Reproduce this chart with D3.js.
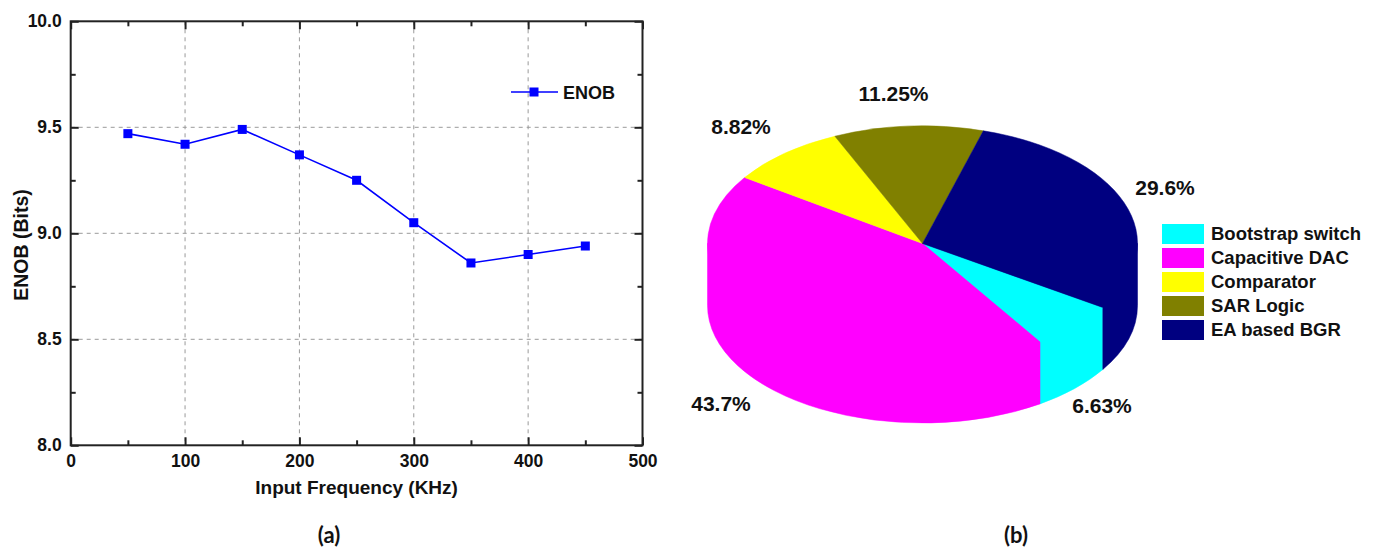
<!DOCTYPE html>
<html>
<head>
<meta charset="utf-8">
<script src="https://cdn.jsdelivr.net/npm/d3@7"></script>
<style>
  html, body { margin: 0; padding: 0; background: #fff; }
  svg { display: block; }
  text { font-family: "Liberation Sans", Arial, sans-serif; }
</style>
</head>
<body>
<svg id="chart" width="1379" height="552"></svg>
<script>
// ---- Data: panel (a) ----
const freqKHz = [50, 100, 150, 200, 250, 300, 350, 400, 450];
const enobBits = [9.47, 9.42, 9.49, 9.37, 9.25, 9.05, 8.86, 8.90, 8.94];
const xMajorTicks = [0, 100, 200, 300, 400, 500];
const xMinorTicks = [50, 150, 250, 350, 450];
const yMajorTicks = [8.0, 8.5, 9.0, 9.5, 10.0];
const yMinorTicks = [8.25, 8.75, 9.25, 9.75];
const seriesName = "ENOB";

// ---- Data: panel (b) ----
const blocks = ["Bootstrap switch", "Capacitive DAC", "Comparator", "SAR Logic", "EA based BGR"];
const shares = [6.63, 43.7, 8.82, 11.25, 29.6];
const shareLabels = ["6.63%", "43.7%", "8.82%", "11.25%", "29.6%"];
const blockColors = ["#00FFFF", "#FF00FF", "#FFFF00", "#808000", "#000080"];

const svg = d3.select("#chart");
svg.append("rect").attr("width", 1379).attr("height", 552).attr("fill", "#fff");

// ================= Panel (a) =================
const L = 70.7, R = 642.5, T = 21.3, B = 445.3;
const x = d3.scaleLinear().domain([0, 500]).range([L, R]);
const y = d3.scaleLinear().domain([8, 10]).range([B, T]);
const ga = svg.append("g");

// grid
ga.append("g").selectAll("line").data([100, 200, 300, 400]).join("line")
  .attr("x1", d => x(d)).attr("x2", d => x(d)).attr("y1", T).attr("y2", B)
  .attr("stroke", "#9a9a9a").attr("stroke-width", 1).attr("stroke-dasharray", "4,4");
ga.append("g").selectAll("line").data([8.5, 9.0, 9.5]).join("line")
  .attr("y1", d => y(d)).attr("y2", d => y(d)).attr("x1", L).attr("x2", R)
  .attr("stroke", "#9a9a9a").attr("stroke-width", 1).attr("stroke-dasharray", "4,4");

function styleAxis(g) {
  g.select(".domain").remove();
  g.selectAll(".tick line").attr("stroke", "#222").attr("stroke-width", 2);
  g.selectAll(".tick text").attr("fill", "#111").attr("font-weight", "bold")
    .attr("font-size", "17.5px").style("font-family", "'Liberation Sans', Arial, sans-serif");
}
// bottom
ga.append("g").attr("transform", `translate(0,${B})`)
  .call(d3.axisBottom(x).tickValues(xMajorTicks).tickSize(-8).tickPadding(9).tickFormat(d3.format("d")))
  .call(styleAxis);
ga.append("g").attr("transform", `translate(0,${B})`)
  .call(d3.axisBottom(x).tickValues(xMinorTicks).tickSize(-5).tickFormat(""))
  .call(styleAxis);
// top
ga.append("g").attr("transform", `translate(0,${T})`)
  .call(d3.axisTop(x).tickValues(xMajorTicks).tickSize(-8).tickFormat(""))
  .call(styleAxis);
ga.append("g").attr("transform", `translate(0,${T})`)
  .call(d3.axisTop(x).tickValues(xMinorTicks).tickSize(-5).tickFormat(""))
  .call(styleAxis);
// left
ga.append("g").attr("transform", `translate(${L},0)`)
  .call(d3.axisLeft(y).tickValues(yMajorTicks).tickSize(-8).tickPadding(9).tickFormat(d3.format(".1f")))
  .call(styleAxis);
ga.append("g").attr("transform", `translate(${L},0)`)
  .call(d3.axisLeft(y).tickValues(yMinorTicks).tickSize(-5).tickFormat(""))
  .call(styleAxis);
// right
ga.append("g").attr("transform", `translate(${R},0)`)
  .call(d3.axisRight(y).tickValues(yMajorTicks).tickSize(-8).tickFormat(""))
  .call(styleAxis);
ga.append("g").attr("transform", `translate(${R},0)`)
  .call(d3.axisRight(y).tickValues(yMinorTicks).tickSize(-5).tickFormat(""))
  .call(styleAxis);

// frame
ga.append("rect").attr("x", L).attr("y", T).attr("width", R - L).attr("height", B - T)
  .attr("fill", "none").attr("stroke", "#222").attr("stroke-width", 2);

// line + markers
const pts = freqKHz.map((f, i) => [f, enobBits[i]]);
ga.append("path").datum(pts)
  .attr("d", d3.line().x(d => x(d[0])).y(d => y(d[1])))
  .attr("fill", "none").attr("stroke", "#0000FF").attr("stroke-width", 1.6);
ga.append("g").selectAll("rect").data(pts).join("rect")
  .attr("x", d => x(d[0]) - 4.5).attr("y", d => y(d[1]) - 4.5)
  .attr("width", 9).attr("height", 9).attr("fill", "#0000FF");

// legend
const lgY = 92;
ga.append("line").attr("x1", 511).attr("x2", 558).attr("y1", lgY).attr("y2", lgY)
  .attr("stroke", "#0000FF").attr("stroke-width", 1.6);
ga.append("rect").attr("x", 534 - 4.5).attr("y", lgY - 4.5).attr("width", 9).attr("height", 9).attr("fill", "#0000FF");
ga.append("text").attr("x", 563).attr("y", 98.5).attr("font-size", "18px").attr("font-weight", "bold")
  .attr("fill", "#111").text(seriesName);

// axis titles
ga.append("text").attr("x", (L + R) / 2).attr("y", 494).attr("text-anchor", "middle")
  .attr("font-size", "19px").attr("font-weight", "bold").attr("fill", "#111")
  .text("Input Frequency (KHz)");
ga.append("text").attr("transform", "translate(28,245) rotate(-90)").attr("text-anchor", "middle")
  .attr("font-size", "19.5px").attr("font-weight", "bold").attr("fill", "#111")
  .text("ENOB (Bits)");

// panel captions
svg.append("text").attr("x", 329).attr("y", 543).attr("text-anchor", "middle")
  .attr("font-size", "22px").attr("font-weight", "bold").style("font-family", "Lato, 'Open Sans', sans-serif")
  .attr("fill", "#111").text("(a)");
svg.append("text").attr("x", 1016).attr("y", 543).attr("text-anchor", "middle")
  .attr("font-size", "22px").attr("font-weight", "bold").style("font-family", "Lato, 'Open Sans', sans-serif")
  .attr("fill", "#111").text("(b)");

// ================= Panel (b): 3D pie =================
const cx = 922.5, cy = 243.5, rx = 215, ry = 117.5, depth = 62;
const startDeg = 123;
const S = startDeg * Math.PI / 180;
const pie = d3.pie().sort(null).startAngle(S).endAngle(S + 2 * Math.PI).value(d => d);
const arcs = pie(shares);

const P = (a, dy = 0) => [cx + rx * Math.sin(a), cy - ry * Math.cos(a) + dy];
const fmt = p => `${p[0].toFixed(2)},${p[1].toFixed(2)}`;

const gb = svg.append("g");

// side walls (front half: angles where cos < 0), merged with the top sector to avoid seams
const fronts = [[Math.PI / 2, 3 * Math.PI / 2], [Math.PI / 2 + 2 * Math.PI, 3 * Math.PI / 2 + 2 * Math.PI]];
arcs.forEach((a, i) => {
  fronts.forEach(([f0, f1]) => {
    const b0 = Math.max(a.startAngle, f0), b1 = Math.min(a.endAngle, f1);
    if (b1 <= b0) return;
    const d = `M${cx},${cy} L${fmt(P(b0))} L${fmt(P(b0, depth))} A${rx},${ry} 0 0 1 ${fmt(P(b1, depth))} L${fmt(P(b1))} Z`;
    gb.append("path").attr("d", d).attr("fill", blockColors[i])
      .attr("stroke", blockColors[i]).attr("stroke-width", 0.5);
  });
});
// tops
arcs.forEach((a, i) => {
  const large = (a.endAngle - a.startAngle) > Math.PI ? 1 : 0;
  const d = `M${cx},${cy} L${fmt(P(a.startAngle))} A${rx},${ry} 0 ${large} 1 ${fmt(P(a.endAngle))} Z`;
  gb.append("path").attr("d", d).attr("fill", blockColors[i])
    .attr("stroke", blockColors[i]).attr("stroke-width", 0.5);
});

// percentage labels
const labelPos = [[1102, 413], [721, 411], [741, 134], [893.5, 101], [1165, 195]];
gb.append("g").selectAll("text").data(shareLabels).join("text")
  .attr("x", (d, i) => labelPos[i][0]).attr("y", (d, i) => labelPos[i][1])
  .attr("text-anchor", "middle").attr("font-size", "21px").attr("font-weight", "bold")
  .attr("fill", "#111").text(d => d);

// legend
const lg = gb.append("g");
blocks.forEach((name, i) => {
  lg.append("rect").attr("x", 1162).attr("y", 224 + i * 24).attr("width", 42).attr("height", 20)
    .attr("fill", blockColors[i]);
  lg.append("text").attr("x", 1211).attr("y", 240 + i * 24).attr("font-size", "18.5px")
    .attr("font-weight", "bold").attr("fill", "#111").text(name);
});
</script>
</body>
</html>
